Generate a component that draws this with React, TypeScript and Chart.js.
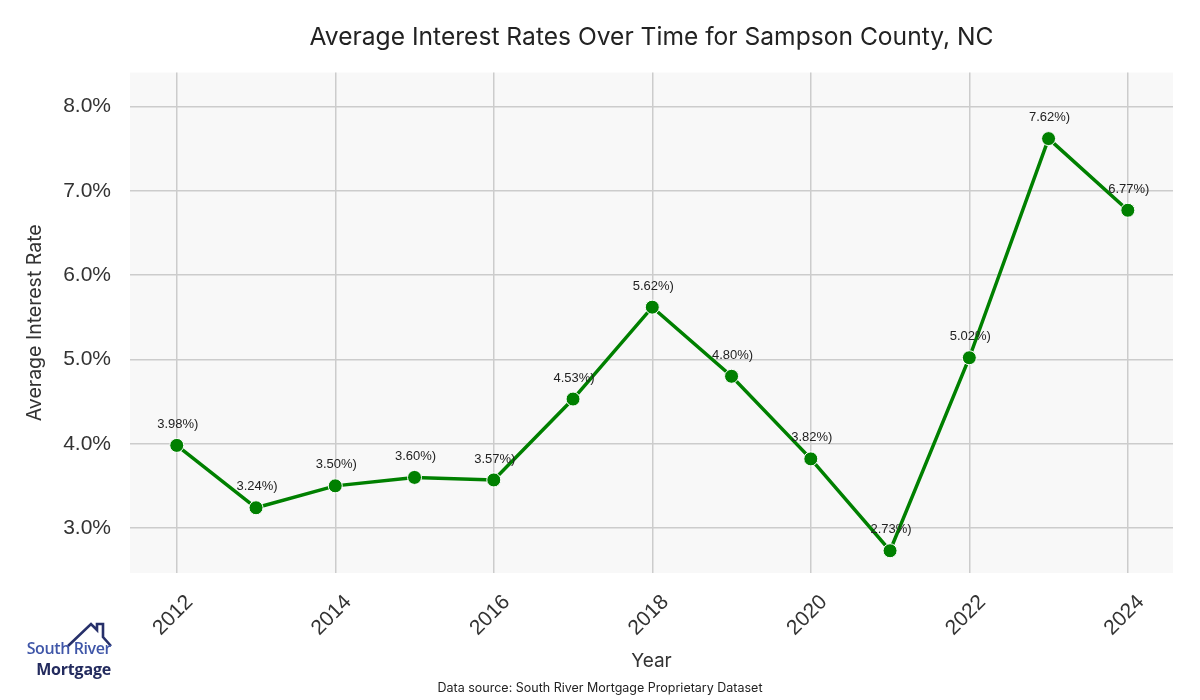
import React, { useEffect, useRef } from "react";
import { Chart, registerables } from "chart.js";

Chart.register(...registerables);

const years = [2012, 2013, 2014, 2015, 2016, 2017, 2018, 2019, 2020, 2021, 2022, 2023, 2024];
const rates = [3.98, 3.24, 3.5, 3.6, 3.57, 4.53, 5.62, 4.8, 3.82, 2.73, 5.02, 7.62, 6.77];
const yTickValues = [3, 4, 5, 6, 7, 8];
const xTickValues = [2012, 2014, 2016, 2018, 2020, 2022, 2024];

const titleText = "Average Interest Rates Over Time for Sampson County, NC";
const sourceText = "Data source: South River Mortgage Proprietary Dataset";

const plotBg = {
  id: "plotBg",
  beforeDraw(chart: any) {
    const { ctx, chartArea } = chart;
    ctx.save();
    ctx.fillStyle = "#f8f8f8";
    ctx.fillRect(chartArea.left, chartArea.top, chartArea.right - chartArea.left, chartArea.bottom - chartArea.top);
    ctx.restore();
  },
};

const pointLabels = {
  id: "pointLabels",
  afterDatasetsDraw(chart: any) {
    const { ctx } = chart;
    const meta = chart.getDatasetMeta(0);
    const data = chart.data.datasets[0].data as any[];
    ctx.save();
    ctx.font = "13px 'Liberation Sans', Arial, sans-serif";
    ctx.fillStyle = "#222222";
    ctx.textAlign = "center";
    ctx.textBaseline = "middle";
    meta.data.forEach((pt: any, i: number) => {
      const v = data[i].y;
      ctx.fillText(v.toFixed(2) + "%)", pt.x + 1, pt.y - 21);
    });
    ctx.restore();
  },
};

export default function App() {
  const ref = useRef<HTMLCanvasElement | null>(null);

  useEffect(() => {
    if (!ref.current) return;
    const chart = new Chart(ref.current, {
      type: "line",
      data: {
        datasets: [
          {
            data: years.map((y, i) => ({ x: y, y: rates[i] })),
            borderColor: "#008000",
            borderWidth: 3.5,
            pointRadius: 7,
            pointBackgroundColor: "#008000",
            pointBorderColor: "#ffffff",
            pointBorderWidth: 1,
            fill: false,
            tension: 0,
          },
        ],
      },
      options: {
        responsive: false,
        animation: false,
        devicePixelRatio: 1,
        layout: { padding: { left: 0, right: 0, top: 0, bottom: 0 } },
        plugins: {
          legend: { display: false },
          tooltip: { enabled: false },
          title: {
            display: true,
            text: titleText,
            fullSize: false,
            color: "#222222",
            font: { family: "Inter, 'Noto Sans', sans-serif", size: 24.6, weight: "normal" },
            padding: { top: 23, bottom: 20 },
          },
          subtitle: {
            display: true,
            position: "bottom",
            fullSize: true,
            text: sourceText,
            color: "#222222",
            font: { family: "Inter, 'Noto Sans', sans-serif", size: 12.5, weight: "normal" },
            padding: { top: 2, bottom: 4 },
          },
        },
        scales: {
          x: {
            type: "linear",
            min: 2011.41,
            max: 2024.57,
            afterFit(scale: any) {
              scale.height = 106;
            },
            afterBuildTicks(scale: any) {
              scale.ticks = xTickValues.map((v) => ({ value: v }));
            },
            border: { display: false },
            grid: { color: "#cccccc", lineWidth: 1.5, drawTicks: false },
            ticks: {
              stepSize: 2,
              includeBounds: false,
              minRotation: 45,
              maxRotation: 45,
              padding: 17,
              labelOffset: 13,
              color: "#333333",
              font: { family: "'Liberation Sans', Arial, sans-serif", size: 21 },
              callback: (v: any) => String(v),
            },
            title: {
              display: true,
              text: "Year",
              color: "#333333",
              font: { family: "Inter, 'Noto Sans', sans-serif", size: 19 },
              padding: { top: 0, bottom: 6 },
            },
          },
          y: {
            type: "linear",
            min: 2.466,
            max: 8.404,
            afterFit(scale: any) {
              scale.width = 130;
            },
            afterBuildTicks(scale: any) {
              scale.ticks = yTickValues.map((v) => ({ value: v }));
            },
            border: { display: false },
            grid: { color: "#cccccc", lineWidth: 1.5, drawTicks: false },
            ticks: {
              stepSize: 1,
              includeBounds: false,
              padding: 19,
              color: "#333333",
              font: { family: "'Liberation Sans', Arial, sans-serif", size: 21 },
              callback: (v: any) => Number(v).toFixed(1) + "%",
            },
            title: {
              display: true,
              text: "Average Interest Rate",
              color: "#333333",
              font: { family: "Inter, 'Noto Sans', sans-serif", size: 19.5 },
              padding: { top: 23, bottom: 0 },
            },
          },
          yRight: {
            type: "linear",
            position: "right",
            min: 2.466,
            max: 8.404,
            afterFit(scale: any) {
              scale.width = 27;
            },
            border: { display: false },
            grid: { display: false, drawTicks: false },
            ticks: { display: false },
          },
        },
      },
      plugins: [plotBg, pointLabels],
    });
    return () => chart.destroy();
  }, []);

  return (
    <div style={{ position: "fixed", left: 0, top: 0, width: 1200, height: 700, background: "#ffffff" }}>
      <canvas ref={ref} width={1200} height={700} style={{ width: 1200, height: 700, display: "block" }} />
      <div style={{ position: "absolute", left: 18, top: 618, width: 100, height: 64 }}>
        <svg width="100" height="30" style={{ position: "absolute", left: 0, top: 0 }}>
          <path
            d="M50 28 L73 6 L79 12 L79 6 L85 6 L85 19 L93 28"
            fill="none"
            stroke="#27306a"
            strokeWidth="2.6"
            strokeLinejoin="miter"
          />
        </svg>
        <div
          style={{
            position: "absolute",
            right: 7,
            top: 20,
            fontFamily: "'Open Sans', 'Noto Sans', sans-serif",
            fontWeight: 600,
            fontSize: 16,
            lineHeight: "20px",
            color: "#3f56a8",
            whiteSpace: "nowrap",
            letterSpacing: -0.4,
          }}
        >
          South River
        </div>
        <div
          style={{
            position: "absolute",
            right: 7,
            top: 41,
            fontFamily: "'Open Sans', 'Noto Sans', sans-serif",
            fontWeight: 700,
            fontSize: 16,
            lineHeight: "20px",
            color: "#232b5e",
            whiteSpace: "nowrap",
            letterSpacing: -0.2,
          }}
        >
          Mortgage
        </div>
      </div>
    </div>
  );
}
